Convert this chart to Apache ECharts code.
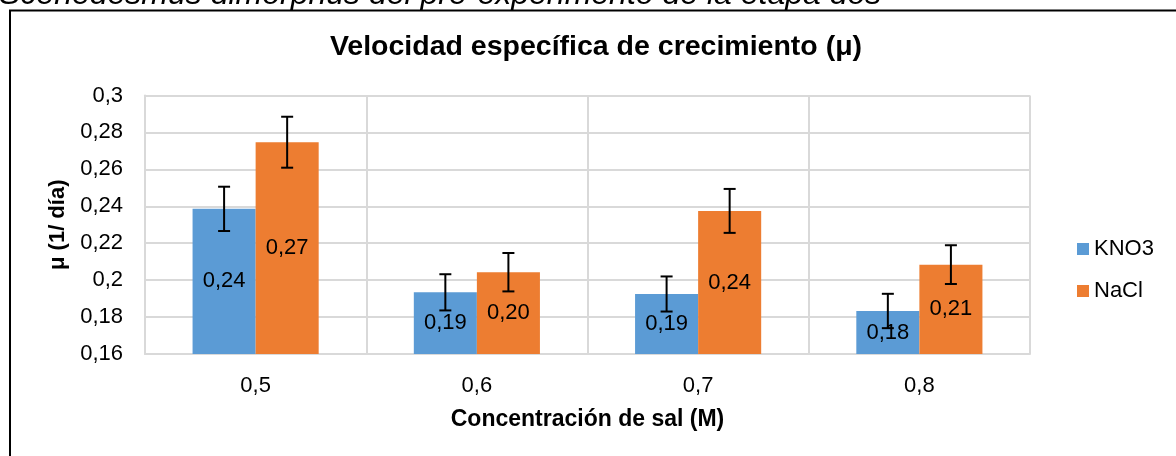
<!DOCTYPE html>
<html>
<head>
<meta charset="utf-8">
<script src="https://cdn.jsdelivr.net/npm/echarts@6/dist/echarts.min.js"></script>
<style>
  html, body { margin: 0; padding: 0; background: #fff; }
  #chart { width: 1176px; height: 456px; }
</style>
</head>
<body>
<div id="chart"></div>
<script>
var categories = ['0,5', '0,6', '0,7', '0,8'];
var kno3 = [0.2386, 0.1934, 0.1925, 0.1833];
var nacl = [0.2747, 0.2043, 0.2375, 0.2084];
var kno3Err = [0.0120, 0.0098, 0.0095, 0.0093];
var naclErr = [0.0138, 0.0104, 0.0119, 0.0105];

var FONT = '"Liberation Sans", Arial, sans-serif';
var GAP = 0.43;

function fmt(v, d) {
	return String(+v.toFixed(d)).replace('.', ',');
}

// filas para las barras de error: [categoria, bajo, alto, serie]
var errRows = [];
for (var i = 0; i < categories.length; i++) {
	errRows.push([i, kno3[i] - kno3Err[i], kno3[i] + kno3Err[i], 0]);
	errRows.push([i, nacl[i] - naclErr[i], nacl[i] + naclErr[i], 1]);
}

function renderErr(params, api) {
	var idx = api.value(0);
	var lo = api.coord([idx, api.value(1)]);
	var hi = api.coord([idx, api.value(2)]);
	var cw = api.size([1, 0])[0];
	var bw = cw * (1 - GAP) / 2;
	var x = lo[0] + (api.value(3) === 0 ? -bw / 2 : bw / 2);
	var cap = 6;
	var st = { stroke: '#000', lineWidth: 2 };
	return {
		type: 'group',
		children: [
			{ type: 'line', shape: { x1: x, y1: lo[1], x2: x, y2: hi[1] }, style: st },
			{ type: 'line', shape: { x1: x - cap, y1: lo[1], x2: x + cap, y2: lo[1] }, style: st },
			{ type: 'line', shape: { x1: x - cap, y1: hi[1], x2: x + cap, y2: hi[1] }, style: st }
		]
	};
}

var myChart = echarts.init(document.getElementById('chart'));
var labelOpt = {
	show: true,
	position: 'inside',
	color: '#000',
	fontFamily: FONT,
	fontSize: 22,
	formatter: function(p) { return p.value.toFixed(2).replace('.', ','); }
};
var option = {
	backgroundColor: '#fff',
	animation: false,
	textStyle: { fontFamily: FONT },
	graphic: [
		{
			type: 'text', x: -1, y: -5, silent: true,
			style: { text: 'Scenedesmus dimorphus del pre-experimento de la etapa dos', font: 'italic 32px ' + FONT, fill: '#000', textVerticalAlign: 'middle' }
		},
		{
			type: 'rect', silent: true,
			shape: { x: 10, y: 10.5, width: 1300, height: 600 },
			style: { fill: null, stroke: '#000', lineWidth: 2 }
		},
		{
			type: 'text', x: 596, y: 47, silent: true,
			style: { text: 'Velocidad específica de crecimiento (μ)', font: 'bold 28.5px ' + FONT, fill: '#000', textAlign: 'center', textVerticalAlign: 'middle' }
		}
	],
	legend: {
		orient: 'vertical',
		left: 1072,
		top: 233,
		itemWidth: 12,
		itemHeight: 12,
		itemGap: 20,
		icon: 'rect',
		data: ['KNO3', 'NaCl'],
		textStyle: { fontFamily: FONT, fontSize: 22, color: '#000' }
	},
	grid: { left: 145, right: 146, top: 95.5, bottom: 102 },
	xAxis: {
		type: 'category',
		data: categories,
		name: 'Concentración de sal (M)',
		nameLocation: 'middle',
		nameGap: 54,
		nameTextStyle: { fontFamily: FONT, fontSize: 23, fontWeight: 'bold', color: '#000' },
		axisLine: { lineStyle: { color: '#d9d9d9', width: 2 } },
		axisTick: { show: false },
		axisLabel: { color: '#000', fontSize: 22, fontFamily: FONT, margin: 21 },
		splitLine: { show: true, lineStyle: { color: '#d9d9d9', width: 2 } }
	},
	yAxis: {
		type: 'value',
		min: 0.16,
		max: 0.3,
		interval: 0.02,
		name: 'μ (1/ día)',
		nameLocation: 'middle',
		nameGap: 74,
		nameTextStyle: { fontFamily: FONT, fontSize: 22, fontWeight: 'bold', color: '#000' },
		axisLine: { show: true, lineStyle: { color: '#d9d9d9', width: 2 } },
		axisTick: { show: false },
		axisLabel: { color: '#000', fontSize: 22, fontFamily: FONT, margin: 22, formatter: function(v) { return fmt(v, 2); } },
		splitLine: { lineStyle: { color: '#d9d9d9', width: 2 } }
	},
	series: [
		{ name: 'KNO3', type: 'bar', data: kno3, barGap: 0, barCategoryGap: '43%', itemStyle: { color: '#5B9BD5' }, label: labelOpt },
		{ name: 'NaCl', type: 'bar', data: nacl, barGap: 0, barCategoryGap: '43%', itemStyle: { color: '#ED7D31' }, label: labelOpt },
		{ name: 'err', type: 'custom', data: errRows, renderItem: renderErr, encode: { x: 0, y: [1, 2] }, z: 10, silent: true }
	]
};
myChart.setOption(option);
</script>
</body>
</html>
